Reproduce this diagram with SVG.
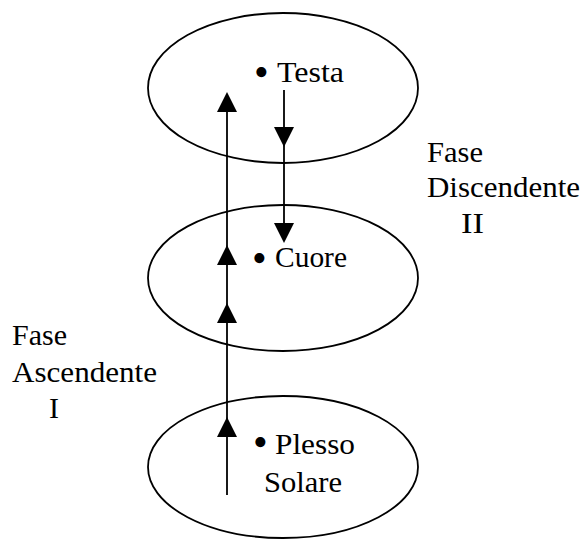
<svg xmlns="http://www.w3.org/2000/svg" xmlns:xlink="http://www.w3.org/1999/xlink" width="585" height="540" viewBox="0 0 585 540">
  <style>
    .node { fill: none; stroke: #000; stroke-width: 1.8; }
    .t { font-family: "Liberation Serif", "Times New Roman", serif; font-size: 30px; fill: #000; }
    .b { font-family: "Liberation Serif", "Times New Roman", serif; font-size: 42px; fill: #000; }
    .wire { stroke: #000; stroke-width: 1.8; fill: none; }
    .head { fill: #000; stroke: none; }
  </style>
  <defs>
    <path id="ah" class="head" d="M0,0 L-10,20 L10,20 Z"/>
  </defs>
  <rect width="585" height="540" fill="#fff"/>

  <g id="node-testa">
    <ellipse class="node" cx="283" cy="88" rx="135" ry="75"/>
    <text class="b" x="254" y="86">•</text>
    <text class="t" x="277" y="82" textLength="67" lengthAdjust="spacingAndGlyphs">Testa</text>
  </g>

  <g id="node-cuore">
    <ellipse class="node" cx="283" cy="278" rx="135" ry="73"/>
    <text class="b" x="252" y="272">•</text>
    <text class="t" x="275" y="267" textLength="72" lengthAdjust="spacingAndGlyphs">Cuore</text>
  </g>

  <g id="node-plesso">
    <ellipse class="node" cx="283" cy="467" rx="135" ry="71"/>
    <text class="b" x="253" y="456">•</text>
    <text class="t" x="275" y="454" textLength="80" lengthAdjust="spacingAndGlyphs">Plesso</text>
    <text class="t" x="264" y="492" textLength="78" lengthAdjust="spacingAndGlyphs">Solare</text>
  </g>

  <g id="label-ascendente">
    <text class="t" x="12" y="345" textLength="55" lengthAdjust="spacingAndGlyphs">Fase</text>
    <text class="t" x="12" y="382" textLength="145" lengthAdjust="spacingAndGlyphs">Ascendente</text>
    <text class="t" x="49" y="418">I</text>
  </g>

  <g id="label-discendente">
    <text class="t" x="427" y="162" textLength="56" lengthAdjust="spacingAndGlyphs">Fase</text>
    <text class="t" x="427" y="197" textLength="153" lengthAdjust="spacingAndGlyphs">Discendente</text>
    <text class="t" x="461" y="233" textLength="23" lengthAdjust="spacingAndGlyphs">II</text>
  </g>

  <g id="connectors">
    <line class="wire" x1="227" y1="100" x2="227" y2="495"/>
    <use xlink:href="#ah" transform="translate(227,92)"/>
    <use xlink:href="#ah" transform="translate(227,245)"/>
    <use xlink:href="#ah" transform="translate(227,303)"/>
    <use xlink:href="#ah" transform="translate(227,417)"/>
    <line class="wire" x1="284" y1="90" x2="284" y2="235"/>
    <use xlink:href="#ah" transform="translate(284,147) rotate(180)"/>
    <use xlink:href="#ah" transform="translate(284,243) rotate(180)"/>
  </g>
</svg>
